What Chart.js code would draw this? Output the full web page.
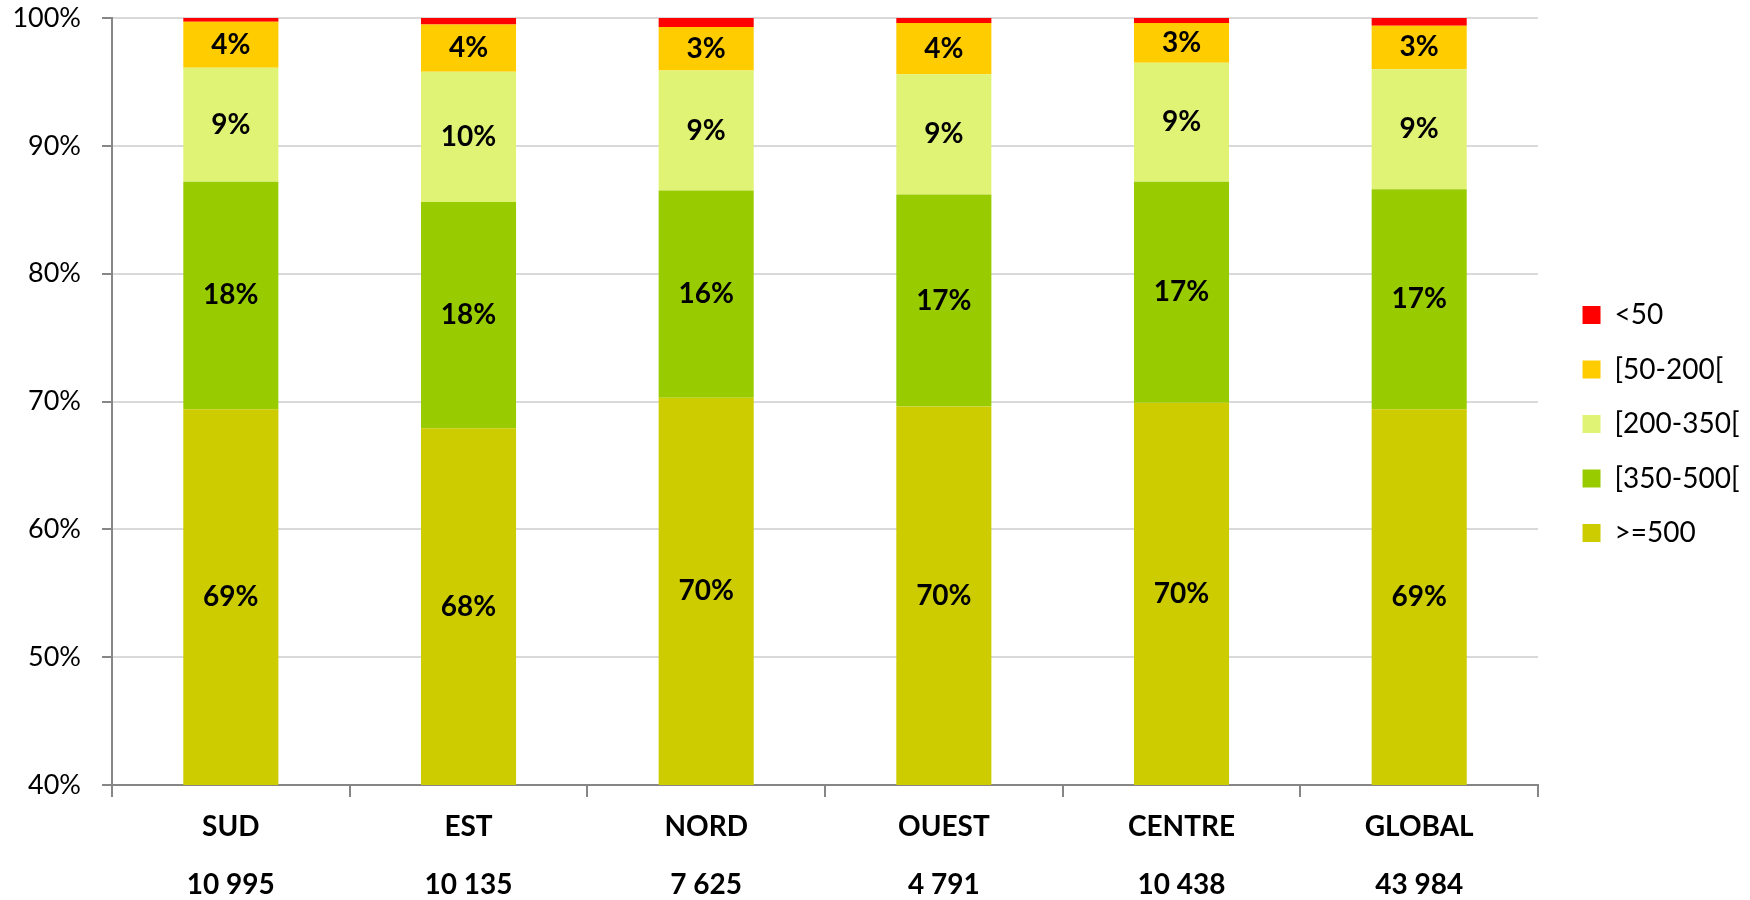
<!DOCTYPE html>
<html>
<head>
<meta charset="utf-8">
<script src="https://cdn.jsdelivr.net/npm/chart.js@4/dist/chart.umd.min.js"></script>
<style>
  html, body { margin: 0; padding: 0; background: #fff; overflow: hidden; }
</style>
</head>
<body>
<canvas id="zoneChart" width="1750" height="900"></canvas>
<script>
    const categories = ['SUD', 'EST', 'NORD', 'OUEST', 'CENTRE', 'GLOBAL'];
    const counts = [10995, 10135, 7625, 4791, 10438, 43984];

    // share of each class, in %
    const over500 = [69.4, 67.9, 70.3, 69.6, 69.9, 69.4];
    const from350 = [17.8, 17.7, 16.2, 16.6, 17.3, 17.2];
    const from200 = [8.9, 10.2, 9.4, 9.4, 9.3, 9.4];
    const from50 = [3.6, 3.7, 3.4, 4.0, 3.1, 3.4];
    const under50 = [0.3, 0.5, 0.7, 0.4, 0.4, 0.6];

    const yTicks = [40, 50, 60, 70, 80, 90, 100];

    const fmt = n => String(n).replace(/\B(?=(\d{3})+(?!\d))/g, ' ');

    // percentage labels in the middle of each visible segment
    const segmentLabels = {
        id: 'segmentLabels',
        afterDatasetsDraw(chart) {
            const ctx = chart.ctx;
            const area = chart.chartArea;
            ctx.save();
            ctx.font = 'bold 28px Lato';
            ctx.fillStyle = '#000';
            ctx.textAlign = 'center';
            ctx.textBaseline = 'middle';
            chart.data.datasets.forEach((ds, i) => {
                if (ds.label === '<50') return;
                chart.getDatasetMeta(i).data.forEach((bar, j) => {
                    const top = Math.max(Math.min(bar.y, bar.base), area.top);
                    const bottom = Math.min(Math.max(bar.y, bar.base), area.bottom);
                    ctx.fillText(Math.round(ds.data[j]) + '%', bar.x, (top + bottom) / 2);
                });
            });
            ctx.restore();
        }
    };

    // nudge the legend a bit (Excel puts it closer to the middle of the plot)
    const legendNudge = {
        id: 'legendNudge',
        afterLayout(chart) {
            const lg = chart.legend;
            const dx = chart.chartArea.right + 18 - lg.left;
            lg.left += dx; lg.right += dx;
            lg.top -= 35; lg.bottom -= 35;
        }
    };

    const data = {
        labels: categories.map((c, i) => [c, fmt(counts[i])]),
        datasets: [
            { label: '>=500', data: over500, backgroundColor: '#CCCC00' },
            { label: '[350-500[', data: from350, backgroundColor: '#99CC00' },
            { label: '[200-350[', data: from200, backgroundColor: '#E0F374' },
            { label: '[50-200[', data: from50, backgroundColor: '#FFCC00' },
            { label: '<50', data: under50, backgroundColor: '#FF0000' }
        ]
    };

    const config = {
        type: 'bar',
        data: data,
        options: {
            responsive: false,
            animation: false,
            categoryPercentage: 0.4,
            barPercentage: 1,
            layout: { padding: { top: 18, right: 18.5, left: 0, bottom: 0 } },
            plugins: {
                tooltip: { enabled: false },
                legend: {
                    position: 'right',
                    reverse: true,
                    labels: {
                        boxWidth: 18,
                        boxHeight: 18,
                        padding: 26.5,
                        color: '#000',
                        font: { family: 'Lato', size: 28 }
                    }
                }
            },
            scales: {
                x: {
                    stacked: true,
                    afterFit: s => { s.height = 115; },
                    border: { color: '#868686', width: 2 },
                    grid: {
                        offset: true,
                        drawOnChartArea: false,
                        tickLength: 12,
                        color: '#868686',
                        lineWidth: 2
                    },
                    ticks: {
                        color: '#000',
                        padding: 1,
                        maxRotation: 0,
                        font: { family: 'Lato', size: 28, weight: 'bold', lineHeight: 2.07 }
                    }
                },
                y: {
                    stacked: true,
                    min: yTicks[0],
                    max: yTicks[yTicks.length - 1],
                    afterFit: s => { s.width = 112; s.paddingTop = 0; },
                    afterBuildTicks: s => { s.ticks = yTicks.map(v => ({ value: v })); },
                    border: { color: '#868686', width: 2 },
                    grid: {
                        color: '#D9D9D9',
                        tickColor: '#868686',
                        lineWidth: 2,
                        tickLength: 10
                    },
                    ticks: {
                        color: '#000',
                        padding: 21,
                        font: { family: 'Lato', size: 27 },
                        callback: v => v + '%'
                    }
                }
            }
        },
        plugins: [segmentLabels, legendNudge]
    };

    const zoneChart = new Chart(document.getElementById('zoneChart'), config);
</script>
</body>
</html>
